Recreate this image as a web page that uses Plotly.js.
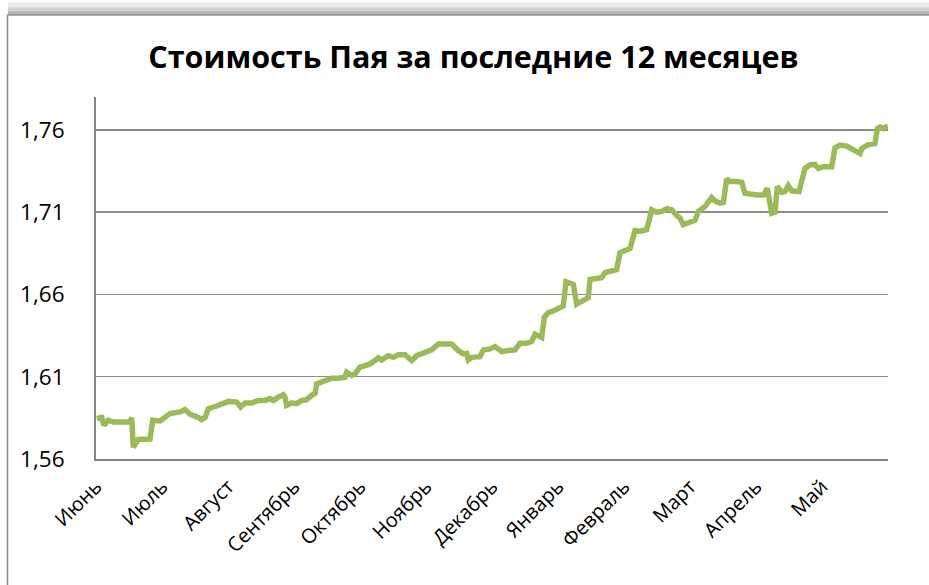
<!DOCTYPE html>
<html>
<head>
<meta charset="utf-8">
<script src="https://cdn.plot.ly/plotly-3.0.1.min.js"></script>
<style>html,body{margin:0;padding:0;background:#fff;}#chart{width:929px;height:585px;}</style>
</head>
<body>
<div id="chart"></div>
<script>
// Month labels (ticks at the start of each month)
var monthLabels = ["Июнь","Июль","Август","Сентябрь","Октябрь","Ноябрь","Декабрь","Январь","Февраль","Март","Апрель","Май"];
var monthTicks = [0,1,2,3,4,5,6,7,8,9,10,11];

// Time position in months from the start of June
var monthPos = [0.011,0.086,0.121,0.186,0.262,0.515,0.541,0.565,0.641,0.818,0.859,0.970,
1.121,1.273,1.348,1.424,1.526,1.602,1.652,1.702,1.829,1.929,
2.005,2.132,2.192,2.258,2.359,2.459,2.561,2.636,2.686,2.762,2.838,2.864,2.889,2.965,
3.041,3.117,3.192,3.268,3.318,3.344,3.444,3.571,3.671,3.773,3.798,3.874,3.924,
4.000,4.076,4.152,4.227,4.277,4.329,4.429,4.505,4.580,4.682,4.732,4.783,4.859,4.985,
5.086,5.186,5.288,5.389,5.489,5.565,5.617,5.641,5.692,5.818,5.868,5.970,
6.045,6.147,6.247,6.348,6.424,6.526,6.602,6.652,6.702,6.753,6.792,6.853,6.929,
7.005,7.080,7.121,7.182,7.232,7.283,7.359,7.459,7.485,7.586,7.662,7.712,7.814,7.889,7.939,
8.015,8.091,8.167,8.242,8.344,8.394,8.420,8.495,8.571,8.647,8.723,8.798,8.848,8.898,
9.000,9.076,9.126,9.227,9.329,9.379,9.455,9.505,9.556,9.606,9.708,9.783,9.833,9.909,
10.011,10.111,10.171,10.238,10.288,10.323,10.389,10.439,10.489,10.541,10.617,10.652,10.742,10.818,10.894,10.944,
11.020,11.147,11.197,11.273,11.374,11.474,11.576,11.602,11.702,11.803,11.838,11.879,11.929,12.000];

// Unit price
var price = [1.5846,1.5852,1.5805,1.5836,1.5825,1.5825,1.5852,1.5671,1.5719,1.5721,1.5836,1.5831,
1.5876,1.5886,1.5900,1.5872,1.5856,1.5840,1.5852,1.5906,1.5922,1.5937,
1.5950,1.5946,1.5916,1.5940,1.5940,1.5956,1.5956,1.5967,1.5956,1.5976,1.5991,1.5976,1.5926,1.5940,
1.5937,1.5956,1.5961,1.5987,1.5997,1.6057,1.6073,1.6091,1.6091,1.6097,1.6127,1.6108,1.6118,
1.6158,1.6168,1.6178,1.6198,1.6215,1.6202,1.6228,1.6218,1.6234,1.6234,1.6215,1.6198,1.6228,1.6248,
1.6263,1.6299,1.6303,1.6299,1.6259,1.6239,1.6242,1.6202,1.6218,1.6222,1.6263,1.6269,
1.6283,1.6253,1.6259,1.6263,1.6303,1.6303,1.6315,1.6359,1.6349,1.6339,1.6460,1.6490,1.6500,
1.6517,1.6530,1.6677,1.6671,1.6662,1.6541,1.6561,1.6581,1.6692,1.6698,1.6702,1.6732,1.6742,1.6752,1.6853,
1.6863,1.6879,1.6988,1.6984,1.6994,1.7085,1.7115,1.7100,1.7105,1.7121,1.7115,1.7080,1.7064,1.7024,
1.7034,1.7050,1.7105,1.7135,1.7189,1.7169,1.7155,1.7159,1.7302,1.7286,1.7286,1.7282,1.7215,1.7209,
1.7205,1.7205,1.7245,1.7094,1.7100,1.7256,1.7221,1.7225,1.7262,1.7230,1.7225,1.7225,1.7366,1.7387,1.7390,1.7366,
1.7376,1.7376,1.7491,1.7508,1.7502,1.7477,1.7457,1.7487,1.7511,1.7517,1.7608,1.7618,1.7608,1.7624];

var FONT = "'Open Sans', 'Noto Sans', sans-serif";

var trace = {
  x: monthPos, y: price, type: "scatter", mode: "lines",
  line: {color: "#9BBB59", width: 5.5, shape: "linear"},
  hoverinfo: "skip"
};

function px2x(p){ return (p - 96) / 792; }
function py2y(p){ return (459 - p) / 364; }

var shapes = [
  // top shadow band
  {type:"rect", xref:"paper", yref:"paper", x0:px2x(8), x1:px2x(940), y0:py2y(12), y1:py2y(0), line:{width:0}, fillcolor:"rgba(150,150,150,0.18)", layer:"below"},
  {type:"rect", xref:"paper", yref:"paper", x0:px2x(8), x1:px2x(940), y0:py2y(12), y1:py2y(5), line:{width:0}, fillcolor:"rgba(130,130,130,0.25)", layer:"below"},
  {type:"rect", xref:"paper", yref:"paper", x0:px2x(8), x1:px2x(940), y0:py2y(12), y1:py2y(9), line:{width:0}, fillcolor:"rgba(110,110,110,0.3)", layer:"below"},
  // chart frame
  {type:"rect", xref:"paper", yref:"paper", x0:px2x(7.5), x1:px2x(960), y0:py2y(620), y1:py2y(12.5), line:{color:"#8c8c8c", width:1.5}, fillcolor:"rgba(0,0,0,0)", layer:"below"}
];

var layout = {
  width: 929, height: 585,
  margin: {l: 96, r: 41, t: 97, b: 126},
  paper_bgcolor: "#ffffff", plot_bgcolor: "#ffffff",
  separators: ", ",
  showlegend: false,
  title: {
    text: "<b>Стоимость Пая за последние 12 месяцев</b>",
    font: {family: FONT, size: 30.5, color: "#000000"},
    x: 473.5/929, xref: "container", xanchor: "center",
    y: 1 - 57/585, yref: "container", yanchor: "middle"
  },
  xaxis: {
    range: [0, 12],
    tickmode: "array", tickvals: monthTicks, ticktext: monthLabels,
    tickangle: -45,
    tickfont: {family: FONT, size: 20, color: "#000000"},
    showgrid: false, zeroline: false,
    showline: true, linecolor: "#868686", linewidth: 2,
    ticks: "", ticklen: 0, ticklabelstandoff: 6
  },
  yaxis: {
    range: [1.56, 1.78],
    tickmode: "array", tickvals: [1.56, 1.61, 1.66, 1.71, 1.76],
    tickformat: ".2f",
    tickfont: {family: FONT, size: 22.5, color: "#000000"},
    showgrid: true, gridcolor: "#8c8c8c", gridwidth: 1.5,
    zeroline: false,
    showline: true, linecolor: "#868686", linewidth: 2,
    ticks: "", ticklabelstandoff: 25
  },
  shapes: shapes
};

Plotly.newPlot("chart", [trace], layout, {displayModeBar: false, staticPlot: true});
</script>
</body>
</html>
